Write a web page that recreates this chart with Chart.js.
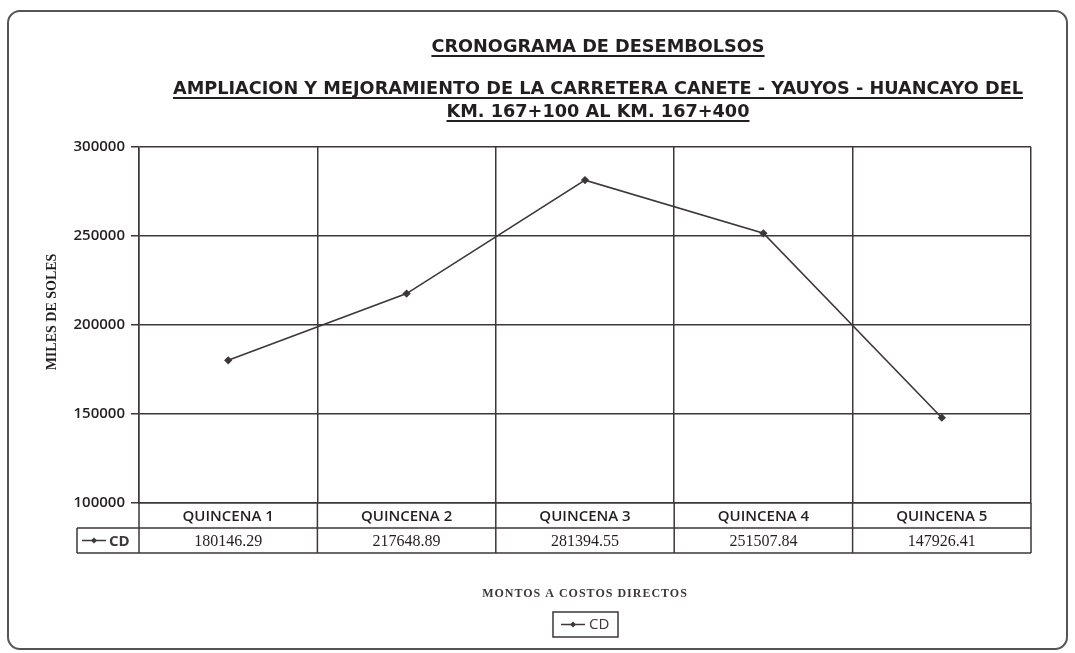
<!DOCTYPE html>
<html>
<head>
<meta charset="utf-8">
<script src="https://cdn.jsdelivr.net/npm/chart.js@4/dist/chart.umd.min.js"></script>
<style>
  html, body { margin: 0; padding: 0; background: #fff; }
  #wrap { width: 1075px; height: 653px; }
</style>
</head>
<body>
<div id="wrap"><canvas id="chart" width="1075" height="653"></canvas></div>
<script>
// chart data
const categories = ['QUINCENA 1', 'QUINCENA 2', 'QUINCENA 3', 'QUINCENA 4', 'QUINCENA 5'];
const cdValues = [180146.29, 217648.89, 281394.55, 251507.84, 147926.41];
const yTicks = [100000, 150000, 200000, 250000, 300000];
const seriesName = 'CD';

const mainTitle = 'CRONOGRAMA DE DESEMBOLSOS';
const subTitle = ['AMPLIACION Y MEJORAMIENTO DE LA CARRETERA CANETE - YAUYOS - HUANCAYO DEL',
                  'KM. 167+100 AL KM. 167+400'];
const yTitle = 'MILES DE SOLES';
const xTitle = 'MONTOS A COSTOS DIRECTOS';

const ink = '#3d373a';
const textInk = '#231f21';

function drawKey(ctx, x, y) {
    // short line with a diamond marker, same as the series
    ctx.strokeStyle = ink;
    ctx.lineWidth = 1.5;
    ctx.beginPath();
    ctx.moveTo(x, y);
    ctx.lineTo(x + 24, y);
    ctx.stroke();
    ctx.fillStyle = ink;
    ctx.beginPath();
    ctx.moveTo(x + 12, y - 3);
    ctx.lineTo(x + 15, y);
    ctx.lineTo(x + 12, y + 3);
    ctx.lineTo(x + 9, y);
    ctx.closePath();
    ctx.fill();
}

function underlined(ctx, text, cx, y) {
    ctx.fillText(text, cx, y);
    const w = ctx.measureText(text).width;
    ctx.fillRect(cx - w / 2, y + 3, w, 2);
}

const decorations = {
    id: 'decorations',
    beforeDraw(chart) {
        const ctx = chart.ctx;
        ctx.save();
        ctx.strokeStyle = '#555';
        ctx.lineWidth = 2;
        ctx.beginPath();
        ctx.roundRect(8, 11, 1059, 638, 12);
        ctx.stroke();
        ctx.restore();
    },
    afterDraw(chart) {
        const { ctx, chartArea, scales } = chart;
        const x = scales.x;
        const left = chartArea.left, right = chartArea.right;
        const colW = (right - left) / categories.length;
        const r0 = chartArea.bottom, r1 = r0 + 25, r2 = r1 + 25;
        const keyLeft = 77;

        ctx.save();
        // titles
        ctx.fillStyle = textInk;
        ctx.textAlign = 'center';
        ctx.textBaseline = 'alphabetic';
        ctx.font = 'bold 17.7px "DejaVu Sans", sans-serif';
        underlined(ctx, mainTitle, 598, 52);
        underlined(ctx, subTitle[0], 598, 94);
        underlined(ctx, subTitle[1], 598, 117);

        // y axis title
        ctx.save();
        ctx.translate(52, 312);
        ctx.rotate(-Math.PI / 2);
        ctx.textBaseline = 'middle';
        ctx.font = 'bold 14px "Liberation Serif", serif';
        ctx.fillText(yTitle, 0, 0);
        ctx.restore();

        // data table under the plot
        ctx.strokeStyle = ink;
        ctx.lineWidth = 1.5;
        ctx.beginPath();
        ctx.moveTo(keyLeft, r1); ctx.lineTo(right, r1);
        ctx.moveTo(keyLeft, r2); ctx.lineTo(right, r2);
        ctx.moveTo(keyLeft, r1); ctx.lineTo(keyLeft, r2);
        for (let i = 0; i <= categories.length; i++) {
            const bx = left + i * colW;
            ctx.moveTo(bx, r0); ctx.lineTo(bx, r2);
        }
        ctx.stroke();

        ctx.fillStyle = textInk;
        ctx.textBaseline = 'middle';
        ctx.font = '600 15px "Open Sans", sans-serif';
        categories.forEach((c, i) => {
            ctx.fillText(c, x.getPixelForValue(i), (r0 + r1) / 2 + 1);
        });
        ctx.font = '16px "Liberation Serif", serif';
        cdValues.forEach((v, i) => {
            ctx.fillText(v.toFixed(2), x.getPixelForValue(i), (r1 + r2) / 2 + 1);
        });

        drawKey(ctx, keyLeft + 5, (r1 + r2) / 2);
        ctx.textAlign = 'left';
        ctx.font = 'bold 15px "Open Sans", sans-serif';
        ctx.fillText(seriesName, keyLeft + 32, (r1 + r2) / 2 + 1);

        // x title and legend box
        ctx.textAlign = 'center';
        ctx.font = 'bold 12px "Liberation Serif", serif';
        ctx.letterSpacing = '1px';
        ctx.fillText(xTitle, 585, 594);
        ctx.letterSpacing = '0px';

        ctx.strokeStyle = ink;
        ctx.lineWidth = 1.5;
        ctx.strokeRect(553, 612, 65, 25);
        drawKey(ctx, 561, 624.5);
        ctx.textAlign = 'left';
        ctx.font = '15px "Open Sans", sans-serif';
        ctx.fillText(seriesName, 589, 625);
        ctx.restore();
    }
};

new Chart(document.getElementById('chart'), {
    type: 'line',
    data: {
        labels: categories,
        datasets: [{
            label: seriesName,
            data: cdValues,
            borderColor: ink,
            backgroundColor: ink,
            borderWidth: 1.6,
            pointStyle: 'rectRot',
            pointRadius: 3,
            tension: 0
        }]
    },
    options: {
        responsive: false,
        animation: false,
        layout: { padding: { left: 40, right: 44, top: 147, bottom: 150 } },
        plugins: {
            legend: { display: false },
            tooltip: { enabled: false }
        },
        scales: {
            x: {
                offset: true,
                grid: { offset: true, color: ink, lineWidth: 1.5, drawTicks: false },
                border: { color: ink, width: 1.5 },
                ticks: { display: false },
                afterFit(s) { s.height = 0; }
            },
            y: {
                min: yTicks[0],
                max: yTicks[yTicks.length - 1],
                afterBuildTicks(s) { s.ticks = yTicks.map(v => ({ value: v })); },
                grid: { color: ink, lineWidth: 1.5, tickLength: 8 },
                border: { color: ink, width: 1.5 },
                ticks: {
                    padding: 6,
                    color: textInk,
                    font: { family: '"Open Sans", sans-serif', size: 15, weight: '600' },
                    callback: v => String(v)
                },
                afterFit(s) { s.width = 99; }
            }
        }
    },
    plugins: [decorations]
});
</script>
</body>
</html>
